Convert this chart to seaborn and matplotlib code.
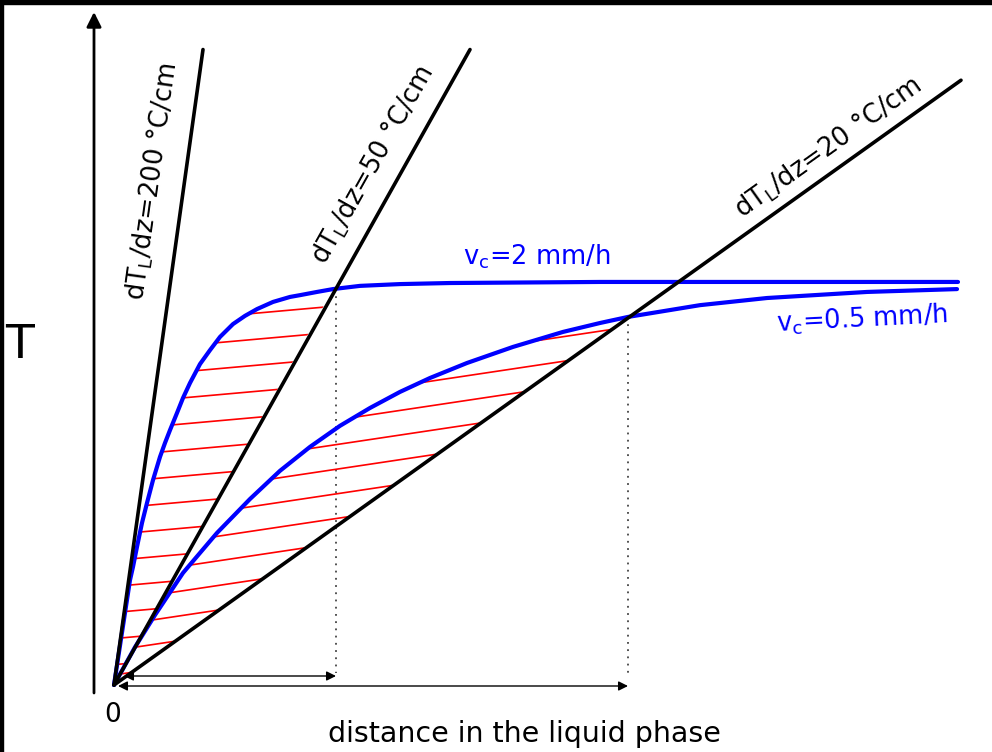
import numpy as np
import matplotlib
matplotlib.use('Agg')
import matplotlib.pyplot as plt
import seaborn as sns
from matplotlib.patches import Polygon, Rectangle

sns.set_style('white')
plt.rcParams['font.family'] = ['DejaVu Sans']
plt.rcParams['mathtext.default'] = 'regular'
plt.rcParams['text.color'] = 'black'

# temperature gradients of the liquid (°C/cm) and where each line stops (mm)
gradients = [200, 50, 20]
grad_labels = ['dT$_L$/dz=200 °C/cm', 'dT$_L$/dz=50 °C/cm', 'dT$_L$/dz=20 °C/cm']
line_end_x = [8.9, 35.6, 84.7]

# curves for two growth rates (x in mm, T in °C above start)
x_v2 = [0, 1.6, 1.9, 2.3, 2.8, 3.3, 3.9, 4.6, 5.1, 5.6, 6.3, 6.9, 7.6, 8.6,
        9.6, 10.6, 11.9, 13.1, 14.3, 15.9, 17.6, 18.6, 20.3, 21.9, 24.6, 28.6,
        33.6, 48.6, 84.4]
T_v2 = [0, 29.4, 33.1, 38.7, 45.4, 51.0, 57.4, 63.9, 67.8, 71.4, 76.2, 80.4,
        84.6, 89.9, 93.8, 97.5, 101.1, 103.4, 105.3, 107.3, 108.7, 109.2,
        110.1, 110.9, 111.8, 112.3, 112.6, 112.9, 112.9]

x_v05 = [0, 2.1, 4.1, 6.9, 10.3, 13.6, 16.6, 19.6, 22.6, 25.6, 28.6, 31.6,
         35.3, 39.9, 44.9, 48.6, 51.4, 58.6, 65.3, 75.3, 84.3]
T_v05 = [0, 10.6, 19.6, 31.4, 42.6, 52.1, 60.0, 66.7, 72.6, 77.6, 82.1, 86.0,
         90.2, 94.7, 98.9, 101.4, 103.1, 106.4, 108.4, 110.1, 110.9]

# where the curves meet the 50 and 20 °C/cm lines
cross_x = [22.2, 51.4]
cross_T = [111.0, 103.1]

# pixel layout of the drawing
X0, Y0 = 114, 685
SX, SY = 10.0, 3.57


def px(x):
    return (x - X0) / SX


def py(y):
    return (Y0 - y) / SY


fig = plt.figure(figsize=(9.92, 7.52), dpi=100)
ax = fig.add_axes([0, 0, 1, 1])
ax.set_xlim(px(0), px(992))
ax.set_ylim(py(752), py(0))
ax.axis('off')

# hatched regions between curve and gradient line
regions = [
    (x_v2, T_v2, cross_x[0], 0.25, 100.6, 7.3),
    (x_v05, T_v05, cross_x[1], 0.42, 78.7, 6.9),
]
for xs, ts, xmax, slope, start, step in regions:
    verts = [(a, b) for a, b in zip(xs, ts) if a <= xmax] + [(0, 0)]
    clip = Polygon(verts, closed=True, facecolor='none', edgecolor='none')
    ax.add_patch(clip)
    for c in np.arange(start, -60, -step):
        hx = np.array([-5, 95])
        ln, = ax.plot(hx, c + slope * hx, color='red', lw=1.2, zorder=2)
        ln.set_clip_path(clip)

# blue curves
for xs, ts in [(x_v2, T_v2), (x_v05, T_v05)]:
    sns.lineplot(x=xs, y=ts, ax=ax, color='#0000ff', lw=3, sort=False,
                 estimator=None, zorder=3, solid_joinstyle='round')

# gradient lines
for g, xe in zip(gradients, line_end_x):
    sns.lineplot(x=[0, xe], y=[0, g / 10 * xe], ax=ax, color='black', lw=2.6,
                 sort=False, estimator=None, zorder=4)

# dotted drops to the distance arrows
for cx, ct in zip(cross_x, cross_T):
    ax.plot([cx, cx], [ct, py(673)], color='#444444', ls=(0, (1, 3)), lw=1.3,
            zorder=1)

# distance arrows
arr_y = [py(676), py(686)]
for cx, ay, x_start in zip(cross_x, arr_y, [px(124), px(118)]):
    ax.annotate('', xy=(cx, ay), xytext=(x_start, ay),
                arrowprops=dict(arrowstyle='<|-|>', color='black', lw=1.0,
                                mutation_scale=14, shrinkA=0, shrinkB=0))

# axes arrows
ax.annotate('', xy=(px(94), py(12)), xytext=(px(94), py(693)),
            arrowprops=dict(arrowstyle='-|>', color='black', lw=2.0,
                            mutation_scale=22, shrinkA=0, shrinkB=0))
ax.annotate('', xy=(px(993), py(692)), xytext=(px(93), py(692)),
            arrowprops=dict(arrowstyle='-|>', color='black', lw=2.0,
                            mutation_scale=22, shrinkA=0, shrinkB=0))

# gradient labels along the lines
label_pos = [(152, 182), (373, 165), (828, 148)]
for g, lab, (lx, ly) in zip(gradients, grad_labels, label_pos):
    ang = np.degrees(np.arctan(g / 10 * SY / SX))
    ax.text(px(lx), py(ly), lab, rotation=ang, rotation_mode='anchor',
            ha='center', va='center', fontsize=18.5, color='black')

ax.text(px(537), py(257), 'v$_c$=2 mm/h', color='#0000ff', fontsize=18.5,
        ha='center', va='center')
ax.text(px(862), py(319), 'v$_c$=0.5 mm/h', color='#0000ff', fontsize=18.5,
        ha='center', va='center', rotation=3, rotation_mode='anchor')

ax.text(px(20), py(346), 'T', fontsize=34, ha='center', va='center',
        color='black')
ax.text(px(113), py(715), '0', fontsize=19, ha='center', va='center',
        color='black')
ax.text(px(524), py(742), 'distance in the liquid phase', fontsize=20.5,
        ha='center', va='baseline', color='black')

# dark frame edges of the original screenshot
fig.add_artist(Rectangle((0, 1 - 4 / 752), 1, 4 / 752, transform=fig.transFigure,
                         color='black'))
fig.add_artist(Rectangle((0, 0), 2.5 / 992, 1, transform=fig.transFigure,
                         color='black'))

fig.savefig('out.png', dpi=100)
